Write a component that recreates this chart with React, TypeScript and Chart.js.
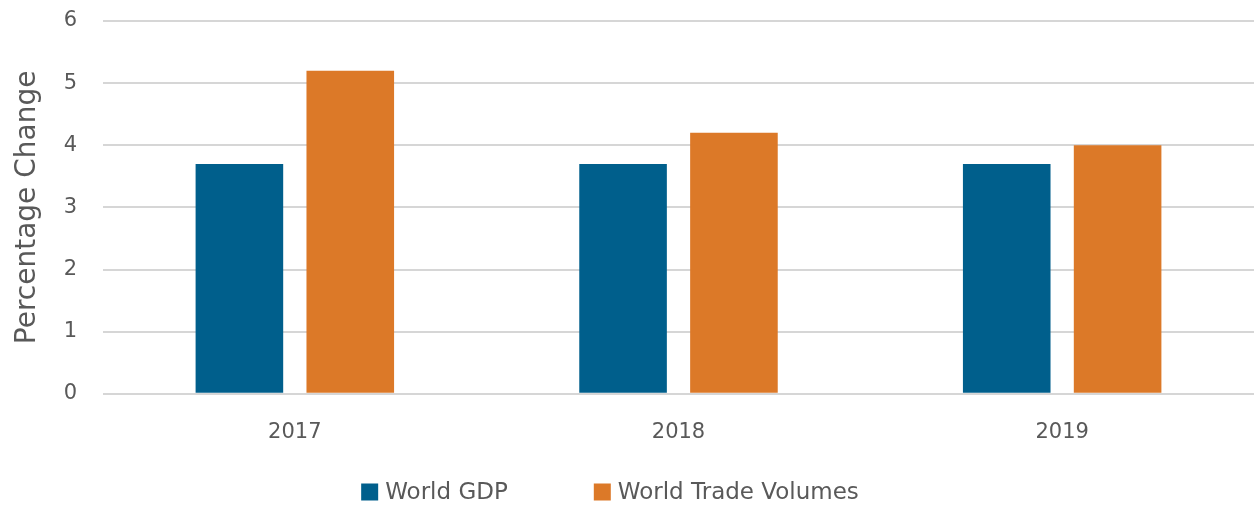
import React, { useEffect, useRef } from "react";
import { Chart, registerables } from "chart.js";

Chart.register(...registerables);

const categories = ["2017", "2018", "2019"];
const worldGDP = [3.7, 3.7, 3.7];
const worldTrade = [5.2, 4.2, 4.0];
const yTicks = [0, 1, 2, 3, 4, 5, 6];
const seriesNames = ["World GDP", "World Trade Volumes"];
const seriesColors = ["#005F8C", "#DC7928"];

const FONT = "'DejaVu Sans', sans-serif";
const TEXT = "#595959";

const customLegend = {
  id: "customLegend",
  afterDraw(chart: any, _args: any, opts: any) {
    const ctx = chart.ctx;
    const size = opts.fontSize;
    const box = opts.box;
    const gap = opts.gap;
    const spacing = opts.spacing;
    ctx.save();
    ctx.font = `${size}px ${FONT}`;
    const items = chart.data.datasets.map((ds: any) => ({
      label: ds.label,
      color: ds.backgroundColor,
      w: ctx.measureText(ds.label).width,
    }));
    let total = 0;
    items.forEach((it: any, i: number) => {
      total += box + gap + it.w + (i < items.length - 1 ? spacing : 0);
    });
    let x = opts.centerX - total / 2;
    const y = opts.centerY;
    ctx.textBaseline = "middle";
    ctx.textAlign = "left";
    items.forEach((it: any) => {
      ctx.fillStyle = it.color;
      ctx.fillRect(x, y - box / 2, box, box);
      x += box + gap;
      ctx.fillStyle = TEXT;
      ctx.fillText(it.label, x, y + 1);
      x += it.w + spacing;
    });
    ctx.restore();
  },
};

export default function App() {
  const ref = useRef<HTMLCanvasElement | null>(null);
  useEffect(() => {
    document.body.style.margin = "0";
    if (!ref.current) return;
    const chart = new Chart(ref.current, {
      type: "bar",
      data: {
        labels: categories,
        datasets: [
          {
            label: seriesNames[0],
            data: worldGDP,
            backgroundColor: seriesColors[0],
            barPercentage: 0.79,
            categoryPercentage: 0.578,
          },
          {
            label: seriesNames[1],
            data: worldTrade,
            backgroundColor: seriesColors[1],
            barPercentage: 0.79,
            categoryPercentage: 0.578,
          },
        ],
      },
      plugins: [customLegend],
      options: {
        responsive: false,
        animation: false,
        layout: { padding: { top: 0, right: 0, left: 0, bottom: 43 } },
        plugins: {
          tooltip: { enabled: false },
          legend: { display: false },
          customLegend: {
            fontSize: 23,
            box: 17,
            gap: 7,
            spacing: 86,
            centerX: 610,
            centerY: 492,
          },
        } as any,
        scales: {
          x: {
            grid: { display: false },
            border: { display: false },
            ticks: {
              color: TEXT,
              font: { family: FONT, size: 21 },
              padding: 18,
            },
          },
          y: {
            min: 0,
            max: 6,
            afterBuildTicks: (axis: any) => {
              axis.ticks = yTicks.map((v) => ({ value: v }));
            },
            afterFit: (scale: any) => {
              scale.width = 103;
              scale.paddingTop = 21;
              scale.paddingBottom = 0;
            },
            grid: { color: "#d6d6d6", lineWidth: 2, drawTicks: false },
            border: { display: false },
            ticks: {
              color: TEXT,
              font: { family: FONT, size: 21 },
              padding: 26,
            },
            title: {
              display: true,
              text: "Percentage Change",
              color: TEXT,
              font: { family: FONT, size: 28 },
              padding: { top: 11, bottom: 0 },
            },
          },
        },
      },
    });
    return () => chart.destroy();
  }, []);
  return (
    <div style={{ width: 1254, height: 506 }}>
      <canvas ref={ref} width={1254} height={506} />
    </div>
  );
}
